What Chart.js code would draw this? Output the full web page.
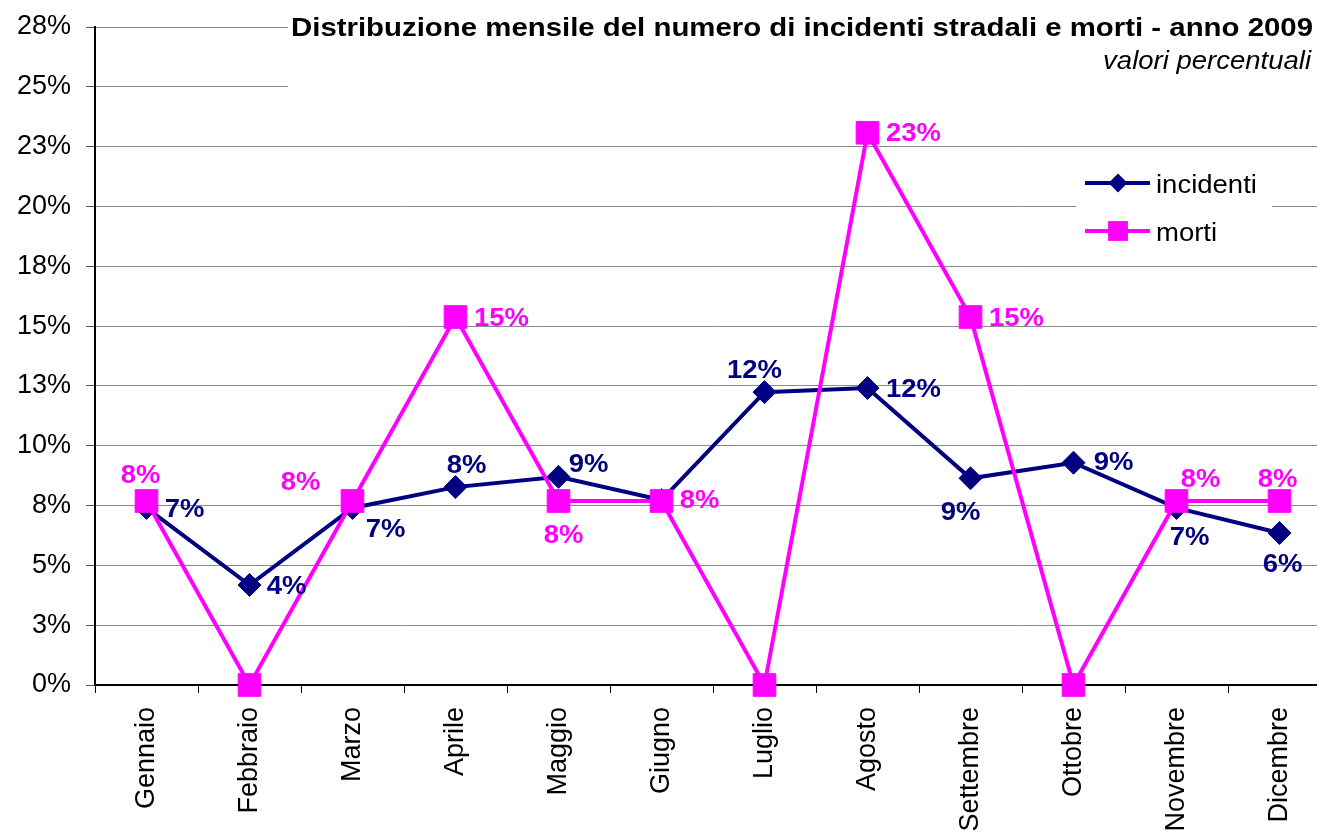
<!DOCTYPE html>
<html lang="it">
<head>
    <meta charset="UTF-8">
    <title>Incidenti stradali e morti - 2009</title>
    <style>
        html, body {
            margin: 0;
            padding: 0;
            background: #fff;
            overflow: hidden;
        }
        canvas {
            display: block;
        }
    </style>
    <script src="https://cdn.jsdelivr.net/npm/chart.js"></script>
</head>
<body>
    <canvas id="chart" width="1331" height="835"></canvas>

    <script>
        // data (percent)
        const months = ['Gennaio', 'Febbraio', 'Marzo', 'Aprile', 'Maggio', 'Giugno',
                        'Luglio', 'Agosto', 'Settembre', 'Ottobre', 'Novembre', 'Dicembre'];
        const incidenti = [7.4, 4.18, 7.4, 8.27, 8.7, 7.73, 12.24, 12.41, 8.64, 9.29, 7.4, 6.35];
        const morti = [7.69, 0, 7.69, 15.38, 7.69, 7.69, 0, 23.08, 15.38, 0, 7.69, 7.69];
        const yMax = 27.5;
        const yStep = 2.5;

        const title = 'Distribuzione mensile del numero di incidenti stradali e morti - anno 2009';
        const subtitle = 'valori percentuali';

        // where each value label sits relative to its point (null = no label)
        const incLabelPos = [[38, 0], [37, 0], [33, 20], [11, -23], [30, -14], null,
                             [-10, -23], [46, 0], [-10, 33], [40, -2], [13, 28], [3, 30]];
        const mortiLabelPos = [[-6, -27], null, [-52, -20], [46, 0], [5, 33], [38, -2],
                               null, [46, -1], [46, 0], null, [24, -23], [-2, -23]];

        const NAVY = '#000080';
        const PINK = '#FF00FF';
        const FONT = "'Liberation Sans', Arial, sans-serif";
        const SX = 1.1; // source picture is a bit stretched sideways

        function stretchedText(ctx, text, x, y, align, sx) {
            ctx.save();
            ctx.translate(x, y);
            ctx.scale(sx || SX, 1);
            ctx.textAlign = align;
            ctx.fillText(text, 0, 0);
            ctx.restore();
        }

        const decorPlugin = {
            id: 'decor',
            beforeDatasetsDraw(chart) {
                const ctx = chart.ctx;
                ctx.save();
                // white boxes behind title and legend
                ctx.fillStyle = '#fff';
                ctx.fillRect(288, 0, chart.width - 288, 110);
                ctx.fillRect(1076, 158, 196, 98);

                // title
                ctx.fillStyle = '#000';
                ctx.textBaseline = 'alphabetic';
                ctx.font = 'bold 26px ' + FONT;
                stretchedText(ctx, title, 1313, 36, 'right', 1.13);
                ctx.font = 'italic 25px ' + FONT;
                stretchedText(ctx, subtitle, 1311, 69, 'right');

                // legend
                const items = [
                    { text: 'incidenti', color: NAVY, style: 'rectRot', r: 9.5, y: 183 },
                    { text: 'morti', color: PINK, style: 'rect', r: 14, y: 231 }
                ];
                items.forEach(it => {
                    ctx.strokeStyle = it.color;
                    ctx.lineWidth = 4;
                    ctx.beginPath();
                    ctx.moveTo(1085, it.y);
                    ctx.lineTo(1150, it.y);
                    ctx.stroke();
                    ctx.fillStyle = it.color;
                    Chart.helpers.drawPoint(ctx, { pointStyle: it.style, radius: it.r, borderWidth: 0, rotation: 0 }, 1118, it.y);
                    ctx.fillStyle = '#000';
                    ctx.font = '25px ' + FONT;
                    stretchedText(ctx, it.text, 1156, it.y + 10, 'left');
                });
                ctx.restore();
            },
            afterDatasetsDraw(chart) {
                const ctx = chart.ctx;
                ctx.save();
                ctx.font = 'bold 25px ' + FONT;
                ctx.textBaseline = 'alphabetic';
                const sets = [
                    { idx: 0, values: incidenti, pos: incLabelPos, color: NAVY },
                    { idx: 1, values: morti, pos: mortiLabelPos, color: PINK }
                ];
                sets.forEach(s => {
                    const meta = chart.getDatasetMeta(s.idx);
                    ctx.fillStyle = s.color;
                    s.values.forEach((v, i) => {
                        const p = s.pos[i];
                        if (!p) return;
                        const pt = meta.data[i];
                        stretchedText(ctx, Math.round(v) + '%', pt.x + p[0], pt.y + p[1] + 9, 'center');
                    });
                });
                ctx.restore();
            }
        };

        function renderChart() {
            const ctx = document.getElementById('chart').getContext('2d');
            new Chart(ctx, {
                type: 'line',
                data: {
                    labels: months,
                    datasets: [{
                        label: 'incidenti',
                        data: incidenti,
                        borderColor: NAVY,
                        backgroundColor: NAVY,
                        borderWidth: 4,
                        tension: 0,
                        pointStyle: 'rectRot',
                        pointRadius: 11.5,
                        pointBorderWidth: 1,
                        clip: false,
                        order: 2
                    }, {
                        label: 'morti',
                        data: morti,
                        borderColor: PINK,
                        backgroundColor: PINK,
                        borderWidth: 4,
                        tension: 0,
                        pointStyle: 'rect',
                        pointRadius: 16,
                        pointBorderWidth: 1,
                        clip: false,
                        order: 1
                    }]
                },
                options: {
                    responsive: false,
                    animation: false,
                    layout: { autoPadding: false, padding: { top: 27, right: 0, bottom: 0, left: 0 } },
                    plugins: {
                        legend: { display: false },
                        tooltip: { enabled: false }
                    },
                    scales: {
                        x: {
                            offset: true,
                            grid: { drawOnChartArea: false, offset: true, tickLength: 8, color: '#000' },
                            border: { color: '#000', width: 2 },
                            ticks: {
                                minRotation: 90,
                                maxRotation: 90,
                                padding: 14,
                                color: '#000',
                                font: { family: FONT, size: 27 }
                            },
                            afterFit(scale) {
                                scale.height = 150;
                                scale.paddingLeft = 0;
                                scale.paddingRight = 0;
                            }
                        },
                        y: {
                            min: 0,
                            max: yMax,
                            grid: { color: '#8a8a8a', tickLength: 9, tickColor: '#555' },
                            border: { color: '#000', width: 2 },
                            ticks: {
                                stepSize: yStep,
                                padding: 15,
                                color: '#000',
                                font: { family: FONT, size: 27 },
                                callback: v => Math.round(v) + '%'
                            },
                            afterFit(scale) {
                                scale.width = 95;
                                scale.paddingTop = 0;
                                scale.paddingBottom = 0;
                            }
                        }
                    }
                },
                plugins: [decorPlugin]
            });
        }

        renderChart();
    </script>
</body>
</html>
